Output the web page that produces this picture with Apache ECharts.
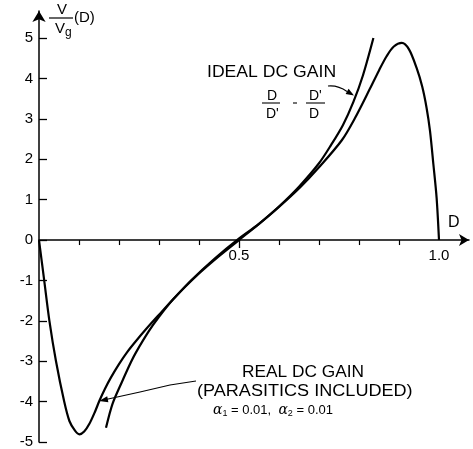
<!DOCTYPE html>
<html>
<head>
<meta charset="utf-8">
<script src="https://cdn.jsdelivr.net/npm/echarts@6/dist/echarts.min.js"></script>
<style>
html,body{margin:0;padding:0;background:#fff;}
#c{width:473px;height:449px;}
</style>
</head>
<body>
<div id="c"></div>
<script>
// Duty cycle D and normalized gain V/Vg
const realD = [0, 0.013, 0.026, 0.0425, 0.063, 0.076, 0.09, 0.101, 0.113, 0.126, 0.14, 0.151, 0.165, 0.18, 0.20, 0.22, 0.2425, 0.27, 0.30, 0.336, 0.38, 0.44, 0.495, 0.55, 0.60, 0.6525, 0.70, 0.757, 0.79, 0.8275, 0.85, 0.869, 0.887, 0.907, 0.925, 0.944, 0.958, 0.969, 0.9775, 0.986, 0.994, 1.0];
const realV = [0, -1.0, -2.0, -3.0, -4.0, -4.48, -4.72, -4.81, -4.74, -4.55, -4.25, -3.98, -3.68, -3.4, -3.07, -2.78, -2.5, -2.18, -1.85, -1.46, -1.0, -0.45, 0, 0.4, 0.82, 1.3, 1.8, 2.47, 3.02, 3.75, 4.2, 4.55, 4.79, 4.88, 4.72, 4.26, 3.8, 3.27, 2.7, 1.87, 1.05, 0];
const idealD = [0.1675, 0.184, 0.207, 0.23, 0.2425, 0.275, 0.30, 0.336, 0.40, 0.45, 0.50, 0.55, 0.60, 0.65, 0.70, 0.73, 0.76, 0.786, 0.81, 0.836];
const idealV = [-4.65, -4.05, -3.52, -3.02, -2.78, -2.25, -1.9, -1.46, -0.83, -0.4, 0, 0.4, 0.83, 1.32, 1.9, 2.35, 2.85, 3.42, 4.08, 5.0];
const yTicks = [-5, -4, -3, -2, -1, 0, 1, 2, 3, 4, 5];
const xMinorTicks = [0.1, 0.2, 0.3, 0.4, 0.6, 0.7, 0.8, 0.9];
const xMajorTicks = [0.5];
const xLabels = [0.5, 1.0];

const FONT = "'Liberation Sans', Arial, sans-serif";
const zip = (a, b) => a.map((v, i) => [v, b[i]]);

const chart = echarts.init(document.getElementById('c'), null, {renderer: 'canvas'});
const axisLineStyle = {color: '#000', width: 1.5};

function xAxes(offset) {
  return [{
    type: 'value', min: 0, max: 1.075, position: 'bottom', offset: offset,
    axisLine: {show: true, onZero: false, lineStyle: axisLineStyle, symbol: ['none', 'arrow'], symbolSize: [9, 10]},
    axisTick: {show: true, inside: false, length: 5, customValues: xMinorTicks, lineStyle: {color: '#000', width: 1.2}},
    axisLabel: {show: true, customValues: xLabels, margin: 8, color: '#000', fontSize: 15, fontFamily: FONT,
      hideOverlap: false, formatter: v => Number(v).toFixed(1)},
    splitLine: {show: false}
  }, {
    type: 'value', min: 0, max: 1.075, position: 'bottom', offset: offset,
    axisLine: {show: false, onZero: false},
    axisTick: {show: true, inside: false, length: 8, customValues: xMajorTicks, lineStyle: {color: '#000', width: 1.3}},
    axisLabel: {show: false},
    splitLine: {show: false}
  }];
}

chart.setOption({
  animation: false,
  backgroundColor: '#fff',
  grid: {left: 39, right: 4, top: 11, bottom: 7, containLabel: false, outerBoundsMode: 'none'},
  xAxis: xAxes(0),
  yAxis: {
    type: 'value', min: -5, max: 5.67,
    axisLine: {show: true, onZero: false, lineStyle: axisLineStyle, symbol: ['none', 'arrow'], symbolSize: [10, 11]},
    axisTick: {show: true, inside: true, length: 8, customValues: yTicks, lineStyle: {color: '#000', width: 1.3}},
    axisLabel: {show: true, customValues: yTicks, margin: 6, color: '#000', fontSize: 15, fontFamily: FONT,
      formatter: v => String(v)},
    splitLine: {show: false}
  },
  series: [{
    name: 'Real DC gain', type: 'line', data: zip(realD, realV), xAxisIndex: 0,
    smooth: 0.3, showSymbol: false, clip: false,
    lineStyle: {color: '#000', width: 2.2}
  }, {
    name: 'Ideal DC gain', type: 'line', data: zip(idealD, idealV), xAxisIndex: 0,
    smooth: 0.3, showSymbol: false, clip: false,
    lineStyle: {color: '#000', width: 2.2}
  }],
  graphic: [
    // y-axis title  V / Vg (D)
    {type: 'text', left: 57, top: 2, style: {text: 'V', fontSize: 15, fontFamily: FONT, fill: '#000'}},
    {type: 'line', shape: {x1: 49, y1: 18, x2: 73, y2: 18}, style: {stroke: '#000', lineWidth: 1.2}},
    {type: 'text', left: 55, top: 21, style: {text: 'V', fontSize: 15, fontFamily: FONT, fill: '#000'}},
    {type: 'text', left: 65, top: 27, style: {text: 'g', fontSize: 12, fontFamily: FONT, fill: '#000'}},
    {type: 'text', left: 74, top: 10, style: {text: '(D)', fontSize: 15, fontFamily: FONT, fill: '#000'}},
    // x-axis name
    {type: 'text', left: 448, top: 215, style: {text: 'D', fontSize: 16, fontFamily: FONT, fill: '#000'}},
    // Ideal annotation
    {type: 'text', left: 207, top: 65, scaleX: 1.1, style: {text: 'IDEAL DC GAIN', fontSize: 16, fontFamily: FONT, fill: '#000'}},
    {type: 'text', left: 267, top: 89, style: {text: 'D', fontSize: 14, fontFamily: FONT, fill: '#000'}},
    {type: 'line', shape: {x1: 262, y1: 103, x2: 280, y2: 103}, style: {stroke: '#000', lineWidth: 1.1}},
    {type: 'text', left: 266, top: 107, style: {text: "D'", fontSize: 14, fontFamily: FONT, fill: '#000'}},
    {type: 'line', shape: {x1: 293, y1: 103, x2: 297, y2: 103}, style: {stroke: '#000', lineWidth: 1.1}},
    {type: 'text', left: 309, top: 89, style: {text: "D'", fontSize: 14, fontFamily: FONT, fill: '#000'}},
    {type: 'line', shape: {x1: 306, y1: 103, x2: 325, y2: 103}, style: {stroke: '#000', lineWidth: 1.1}},
    {type: 'text', left: 309, top: 107, style: {text: 'D', fontSize: 14, fontFamily: FONT, fill: '#000'}},
    {type: 'bezierCurve', shape: {x1: 328, y1: 86, cpx1: 338, cpy1: 85, x2: 347, y2: 91.5}, style: {stroke: '#000', lineWidth: 1.1, fill: null}},
    {type: 'polygon', shape: {points: [[354, 95.5], [345.6, 94.0], [348.6, 88.8]]}, style: {fill: '#000'}},
    // Real annotation
    {type: 'text', left: 242, top: 365, scaleX: 1.08, style: {text: 'REAL DC GAIN', fontSize: 16, fontFamily: FONT, fill: '#000'}},
    {type: 'text', left: 197, top: 384, scaleX: 1.13, style: {text: '(PARASITICS INCLUDED)', fontSize: 16, fontFamily: FONT, fill: '#000'}},
    {type: 'text', left: 213, top: 403, style: {
      text: '{a|α}{s|1}{t| = 0.01,  }{a|α}{s|2}{t| = 0.01}', fontFamily: FONT, fill: '#000',
      rich: {
        a: {fontSize: 14, fontStyle: 'italic', fontFamily: "'DejaVu Serif', serif", lineHeight: 16, fill: '#000'},
        s: {fontSize: 9, fontFamily: FONT, verticalAlign: 'bottom', lineHeight: 9, fill: '#000'},
        t: {fontSize: 13, fontFamily: FONT, lineHeight: 16, fill: '#000'}
      }}},
    {type: 'polyline', shape: {points: [[196, 381], [170, 385], [140, 392], [107, 399.3]]}, style: {stroke: '#000', lineWidth: 1.1, fill: null}},
    {type: 'polygon', shape: {points: [[99, 401], [108.4, 402.3], [107.2, 396.3]]}, style: {fill: '#000'}}
  ]
});

// Move the x axis up so it sits on V/Vg = 0 (labels follow it)
const yZero = chart.convertToPixel({yAxisIndex: 0}, 0);
const yBottom = chart.convertToPixel({yAxisIndex: 0}, -5);
chart.setOption({xAxis: xAxes(-(yBottom - yZero))});
</script>
</body>
</html>
